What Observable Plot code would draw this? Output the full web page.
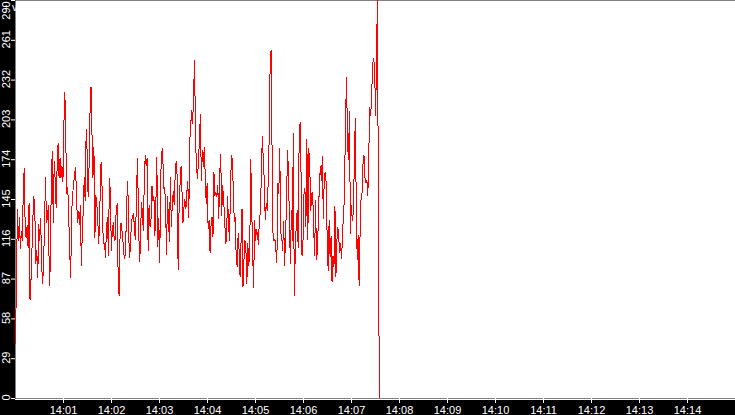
<!DOCTYPE html>
<html>
<head>
<meta charset="utf-8">
<script src="https://cdn.jsdelivr.net/npm/d3@7"></script>
<script src="https://cdn.jsdelivr.net/npm/@observablehq/plot@0.6"></script>
<style>
  html, body { margin: 0; padding: 0; background: #000; overflow: hidden; }
</style>
</head>
<body>
<div id="chart"></div>
<script>
const segmentA = [40, 88, 138, 115, 132, 109, 122, 115, 149, 168,
  125, 117, 126, 110, 142, 72, 86, 108, 132, 147,
  135, 98, 108, 88, 127, 115, 131, 97, 84, 97,
  127, 161, 128, 132, 141, 82, 98, 161, 180, 128,
  173, 159, 139, 169, 186, 161, 175, 161, 169, 158,
  200, 223, 186, 149, 154, 132, 107, 88, 135, 149,
  155, 164, 168, 149, 128, 136, 127, 141, 97, 120,
  137, 161, 144, 196, 180, 147, 169, 209, 227, 193,
  161, 183, 117, 148, 142, 130, 113, 132, 170, 172,
  126, 113, 113, 103, 125, 132, 104, 160];
const segmentB = [151, 108, 122, 128, 115, 116, 137, 142, 91, 75,
  117, 128, 122, 115, 105, 102, 117, 145, 158, 117,
  103, 117, 130, 133, 135, 121, 116, 149, 175, 137,
  100, 109, 143, 137, 122, 156, 177, 170, 175, 108,
  141, 125, 131, 155, 144, 147, 119, 142, 176, 111,
  131, 99, 161, 179, 182, 153, 154, 143, 105, 147,
  131, 114, 161, 125, 142, 151, 141, 164, 173, 162,
  94, 138, 156, 169, 151, 128, 139, 145, 138, 150,
  158, 132, 187, 199, 210, 200, 223, 246, 188, 169,
  160, 173, 188];
const segmentC = [207, 159, 181, 169, 183, 163, 142, 157, 124, 130,
  106, 126, 132, 118, 165, 148, 150, 147, 155, 131,
  164, 178, 133, 155, 144, 133, 113, 115, 147, 130,
  115, 147, 177, 174, 152, 129, 132, 102, 96, 120,
  108, 89, 114, 138, 81, 101, 115, 109, 84, 113,
  97, 109, 174, 140, 106, 81, 130, 115, 123, 120,
  112, 132, 135, 164, 191, 174, 159, 130, 142, 137,
  157, 188, 240, 254, 184, 121, 115, 116, 108, 99,
  157, 149, 182, 121, 118, 108, 129, 97, 118, 144,
  181, 166, 127];
const segmentD = [98, 137, 115, 193, 75, 106, 127, 137, 110, 187,
  201, 163, 104, 115, 149, 153, 125, 189, 116, 182,
  169, 137, 149, 150, 125, 104, 144, 101, 108, 135,
  157, 169, 159, 176, 131, 161, 165, 157, 115, 93,
  130, 103, 118, 85, 104, 96, 140, 89, 115, 125,
  116, 106, 113, 102, 126, 130, 158, 206, 234, 186,
  174, 209, 120, 141, 130, 135, 170, 204, 144, 101,
  119, 82, 121, 146, 150, 171, 177, 161, 157, 159,
  148, 180, 212, 206, 223, 244, 248, 240, 206, 250,
  300, 96, 0];

const startTime = "14:00:00";
const sampleSeconds = 1.21;
const xDomainLabels = ["14:00", "14:15"];
const xTickLabels = ["14:01", "14:02", "14:03", "14:04", "14:05", "14:06", "14:07",
  "14:08", "14:09", "14:10", "14:11", "14:12", "14:13", "14:14"];
const yDomain = [0, 290];
const yTicks = [0, 29, 58, 87, 116, 145, 174, 203, 232, 261, 290];

const parseHM = d3.utcParse("%H:%M");
const parseHMS = d3.utcParse("%H:%M:%S");
const t0 = parseHMS(startTime);
const values = [...segmentA, ...segmentB, ...segmentC, ...segmentD];
const data = values.map((v, i) => ({ time: new Date(+t0 + i * sampleSeconds * 1000), value: v }));
const xTickDates = xTickLabels.map(parseHM);
const fmt = d3.utcFormat("%H:%M");
const topTick = yDomain[1];

const chart = Plot.plot({
  width: 735,
  height: 415,
  marginLeft: 15,
  marginRight: 0,
  marginTop: 0,
  marginBottom: 17,
  style: {
    background: "black",
    color: "white",
    fontFamily: "'Liberation Sans', Arial, sans-serif",
    fontSize: "11px"
  },
  x: { type: "utc", domain: xDomainLabels.map(parseHM), axis: null },
  y: { domain: yDomain, axis: null },
  marks: [
    Plot.frame({ fill: "white", stroke: "none" }),
    Plot.line(data, {
      x: "time", y: "value", stroke: "red", strokeWidth: 1, clip: true,
      shapeRendering: "crispEdges"
    }),
    Plot.ruleY([yDomain[0]], { stroke: "white", dy: 1 }),
    Plot.axisX(xTickDates, {
      anchor: "bottom", tickSize: 5, tickPadding: 3,
      stroke: "white", fill: "white", tickFormat: fmt
    }),
    Plot.axisY(yTicks, {
      anchor: "left", tickSize: 4, stroke: "white", tickFormat: () => ""
    }),
    Plot.text(yTicks.filter(d => d !== topTick), {
      y: d => d, text: d => String(d), frameAnchor: "left", dx: -9.5, dy: -1,
      rotate: -90, textAnchor: "middle", lineAnchor: "middle", fill: "white"
    }),
    Plot.text([topTick], {
      y: d => d, text: d => String(d), frameAnchor: "left", dx: -9.5, dy: 10,
      rotate: -90, textAnchor: "middle", lineAnchor: "middle", fill: "white"
    })
  ]
});
document.getElementById("chart").appendChild(chart);
</script>
</body>
</html>
